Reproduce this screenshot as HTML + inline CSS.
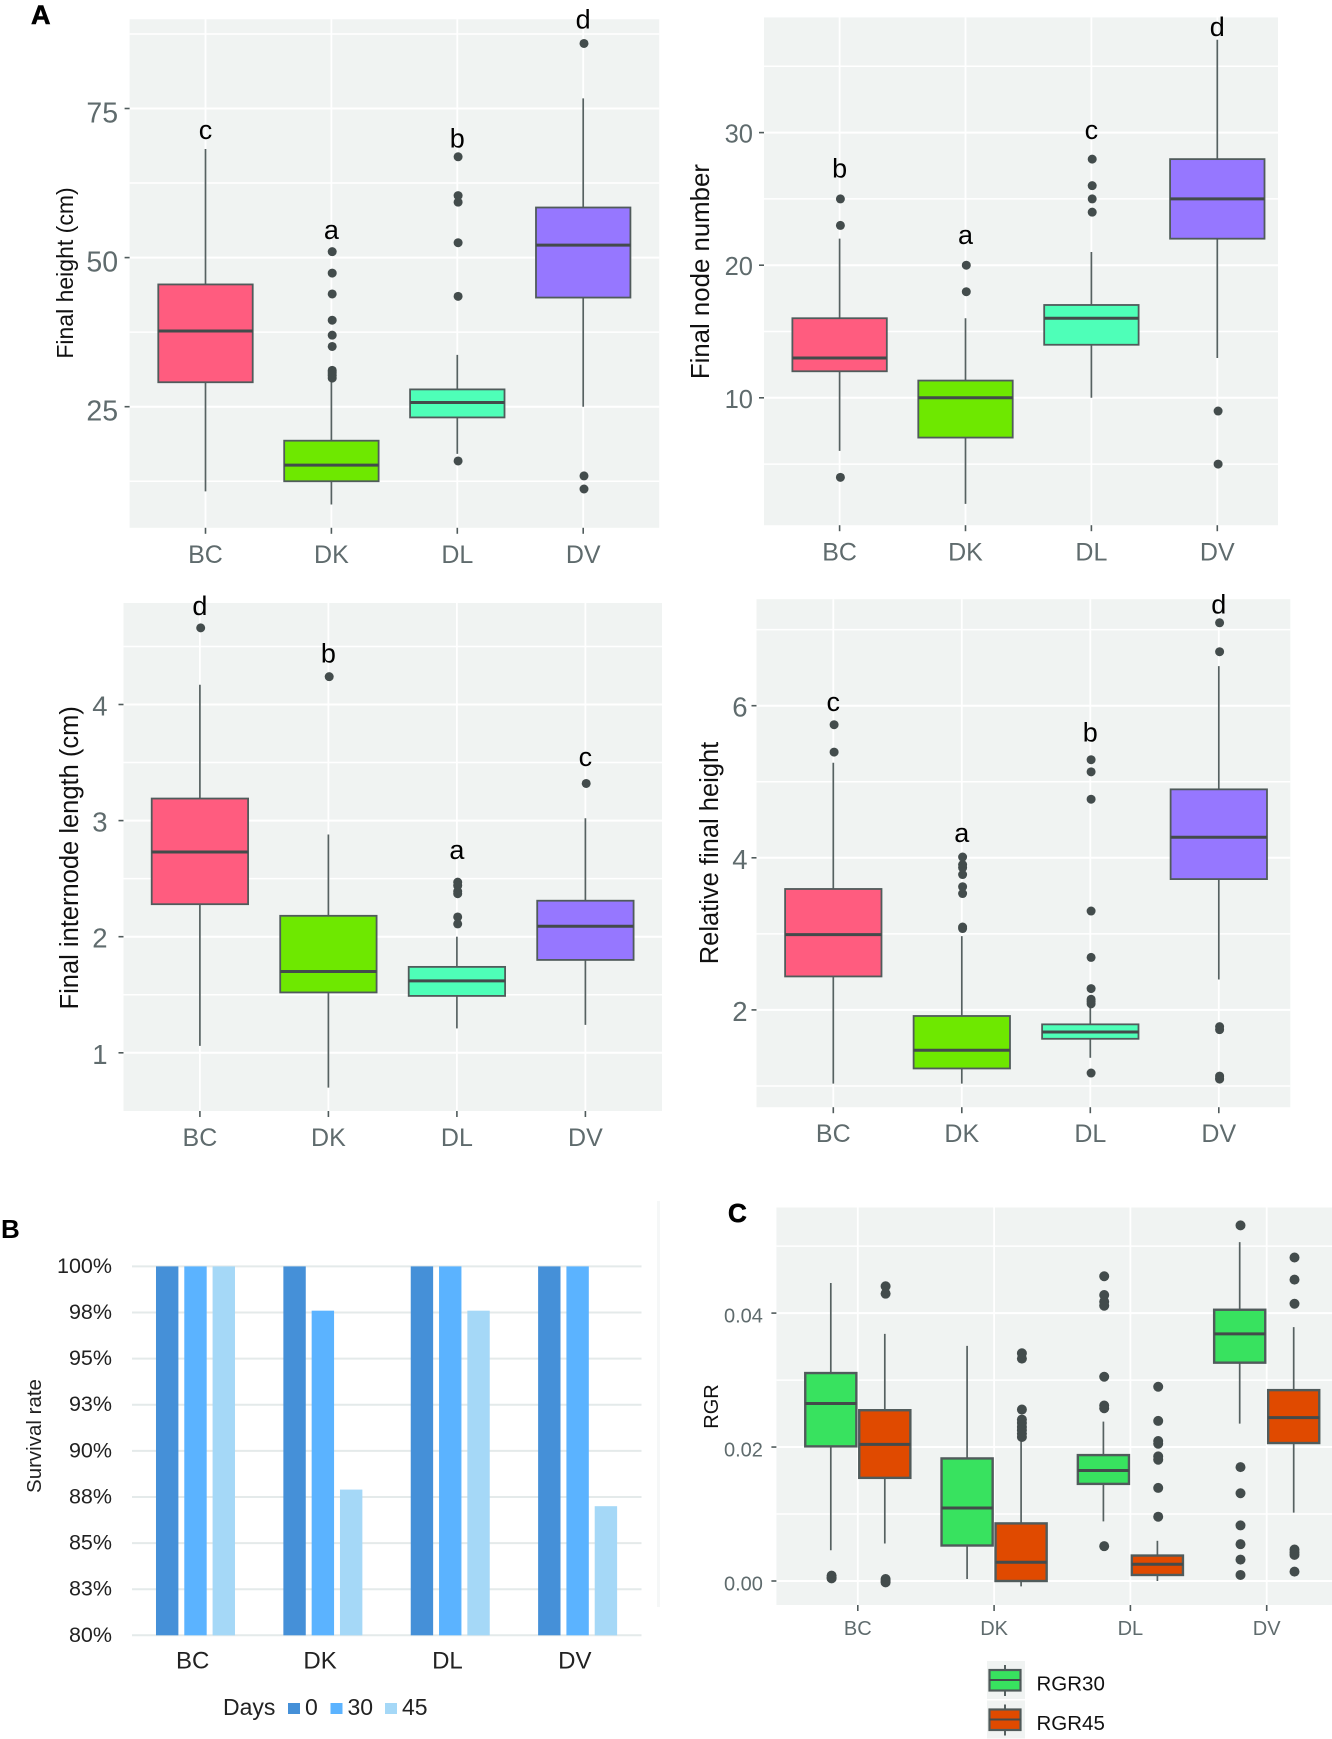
<!DOCTYPE html>
<html lang="en">
<head>
<meta charset="utf-8">
<title>Growth, survival and RGR by group</title>
<style>
html,body{margin:0;padding:0;background:#fff}
body{width:1332px;height:1739px;overflow:hidden}
svg{display:block;font-family:"Liberation Sans",sans-serif}
</style>
</head>
<body>
<svg id="figure" xmlns="http://www.w3.org/2000/svg" width="1332" height="1739" viewBox="0 0 1332 1739">
  <text x="31" y="24" font-size="27" font-weight="bold" stroke="#000" stroke-width="0.6">A</text>
  <text x="1" y="1238" font-size="26" font-weight="bold">B</text>
  <text x="728" y="1222" font-size="26" font-weight="bold" stroke="#000" stroke-width="0.6">C</text>
  <rect x="657" y="1201" width="3" height="406" fill="#f5f7f7"/>
</svg>
<script>
const categories = ['BC', 'DK', 'DL', 'DV'];

const heightTicks = [25, 50, 75];
const heightMinor = [12.5, 37.5, 62.5, 87.5];
const heightWhiskerLow = [10.8, 8.6, 17.1, 25.0];
const heightQ1 = [29.1, 12.5, 23.2, 43.3];
const heightMedian = [37.7, 15.2, 25.7, 52.1];
const heightQ3 = [45.5, 19.3, 27.9, 58.4];
const heightWhiskerHigh = [68.2, 29.2, 33.7, 76.7];
const heightOutliers = [[], [51.0, 47.4, 43.9, 39.5, 37.0, 35.1, 31.1, 30.8, 30.5, 30.2, 29.8], [66.9, 60.4, 59.3, 52.5, 43.5, 15.9], [85.9, 13.4, 11.2]];
const heightLetters = ['c', 'a', 'b', 'd'];
const heightLetterLevels = [69.9, 53.1, 68.5, 88.4];

const nodeTicks = [10, 20, 30];
const nodeMinor = [5, 15, 25, 35];
const nodeWhiskerLow = [6, 2, 10, 13];
const nodeQ1 = [12, 7, 14, 22];
const nodeMedian = [13, 10, 16, 25];
const nodeQ3 = [16, 11.3, 17, 28];
const nodeWhiskerHigh = [22, 16, 21, 37];
const nodeOutliers = [[25, 23, 4], [20, 18], [28, 26, 25, 24], [9, 5]];
const nodeLetters = ['b', 'a', 'c', 'd'];
const nodeLetterLevels = [26.6, 21.6, 29.5, 37.3];

const internodeTicks = [1, 2, 3, 4];
const internodeMinor = [1.5, 2.5, 3.5, 4.5];
const internodeWhiskerLow = [1.06, 0.70, 1.21, 1.24];
const internodeQ1 = [2.28, 1.52, 1.49, 1.80];
const internodeMedian = [2.73, 1.70, 1.62, 2.09];
const internodeQ3 = [3.19, 2.18, 1.74, 2.31];
const internodeWhiskerHigh = [4.17, 2.88, 2.0, 3.02];
const internodeOutliers = [[4.66], [4.24], [2.47, 2.44, 2.39, 2.37, 2.17, 2.11], [3.32]];
const internodeLetters = ['d', 'b', 'a', 'c'];
const internodeLetterLevels = [4.77, 4.36, 2.67, 3.47];

const relativeTicks = [2, 4, 6];
const relativeMinor = [1, 3, 5, 7];
const relativeWhiskerLow = [1.03, 1.03, 1.37, 2.40];
const relativeQ1 = [2.44, 1.23, 1.62, 3.72];
const relativeMedian = [2.99, 1.47, 1.71, 4.27];
const relativeQ3 = [3.59, 1.92, 1.81, 4.90];
const relativeWhiskerHigh = [5.25, 2.97, 2.04, 6.52];
const relativeOutliers = [[5.75, 5.39], [4.01, 3.91, 3.87, 3.78, 3.62, 3.53, 3.09, 3.07], [5.29, 5.13, 4.77, 3.30, 2.69, 2.28, 2.14, 2.11, 2.08, 1.17], [7.09, 6.71, 1.78, 1.74, 1.13, 1.10, 1.09]];
const relativeLetters = ['c', 'a', 'b', 'd'];
const relativeLetterLevels = [5.93, 4.21, 5.53, 7.21];

const survivalTicks = [80, 82.5, 85, 87.5, 90, 92.5, 95, 97.5, 100];
const survivalTickLabels = ['80%', '83%', '85%', '88%', '90%', '93%', '95%', '98%', '100%'];
const survivalDays = ['0', '30', '45'];
const survivalDay0 = [100, 100, 100, 100];
const survivalDay30 = [100, 97.6, 100, 100];
const survivalDay45 = [100, 87.9, 97.6, 87.0];

const rgrTicks = [0, 0.02, 0.04];
const rgrTickLabels = ['0.00', '0.02', '0.04'];
const rgrMinor = [0.01, 0.03, 0.05];
const rgrSeriesNames = ['RGR30', 'RGR45'];
const rgr30WhiskerLow = [0.0046, 0.0003, 0.0089, 0.0235];
const rgr30Q1 = [0.0201, 0.0053, 0.0145, 0.0326];
const rgr30Median = [0.0265, 0.0109, 0.0165, 0.0369];
const rgr30Q3 = [0.03105, 0.0183, 0.0188, 0.0405];
const rgr30WhiskerHigh = [0.0445, 0.0351, 0.0238, 0.0506];
const rgr30Outliers = [[0.0008, 0.0005, 0.0004], [], [0.0455, 0.0427, 0.0417, 0.0411, 0.0305, 0.0262, 0.0258, 0.0052], [0.0531, 0.0170, 0.0131, 0.0083, 0.0055, 0.0032, 0.0009]];
const rgr45WhiskerLow = [0.0056, -0.0008, 0, 0.0102];
const rgr45Q1 = [0.0154, 0, 0.0009, 0.0206];
const rgr45Median = [0.0204, 0.0028, 0.0025, 0.0244];
const rgr45Q3 = [0.0255, 0.0086, 0.0038, 0.0285];
const rgr45WhiskerHigh = [0.0369, 0.0209, 0.0060, 0.0379];
const rgr45Outliers = [[0.0440, 0.0429, 0.0003, 0, -0.0002], [0.0340, 0.0332, 0.0256, 0.0241, 0.0236, 0.0230, 0.0225, 0.0220, 0.0215], [0.0290, 0.0239, 0.0209, 0.0205, 0.0186, 0.0181, 0.0139, 0.0096], [0.0483, 0.0450, 0.0414, 0.0047, 0.0043, 0.0039, 0.0014]];

const svg = document.getElementById('figure');
const NS = 'http://www.w3.org/2000/svg';
const groupFills = ['#ff5c7f', '#6ee800', '#4effb8', '#9677ff'];
const tickColor = '#5f6b6d';
const boxStroke = '#505b5b';
const medianStroke = '#434b4b';
const whiskerStroke = '#566161';
const dotFill = '#434c4c';

function node(parent, tag, attrs, text) {
  const el = document.createElementNS(NS, tag);
  for (const k in attrs) el.setAttribute(k, attrs[k]);
  if (text !== undefined) el.textContent = text;
  parent.appendChild(el);
  return el;
}

function linearScale(d0, d1, r0, r1) {
  return function (v) { return r0 + (v - d0) * (r1 - r0) / (d1 - d0); };
}

function drawFrame(p) {
  const g = node(svg, 'g', {});
  
  
  const bg = node(g, 'rect', { x: p.left, y: p.top, width: p.right - p.left, height: p.bottom - p.top, fill: '#f0f3f2' });
  
  
  p.minor.forEach(function (v) {
    const line = node(g, 'line', { x1: p.left, x2: p.right, y1: p.y(v), y2: p.y(v), stroke: '#fff', 'stroke-width': 1.5 });
    
    
  });
  p.ticks.forEach(function (v, i) {
    const line = node(g, 'line', { x1: p.left, x2: p.right, y1: p.y(v), y2: p.y(v), stroke: '#fff', 'stroke-width': 2 });
    
    
    const mark = node(g, 'line', { x1: p.left - 5, x2: p.left, y1: p.y(v), y2: p.y(v), stroke: boxStroke, 'stroke-width': 1.6 });
    
    
    const label = node(g, 'text', { x: p.left - p.tickGap, y: p.y(v) + p.tickDy, 'text-anchor': 'end', 'font-size': p.tickFont, fill: tickColor }, p.tickLabels ? p.tickLabels[i] : String(v));
    
    
  });
  categories.forEach(function (c, i) {
    const x = p.x(i);
    const grid = node(g, 'line', { x1: x, x2: x, y1: p.top, y2: p.bottom, stroke: '#fff', 'stroke-width': 1.8 });
    
    
    const mark = node(g, 'line', { x1: x, x2: x, y1: p.bottom, y2: p.bottom + 6, stroke: boxStroke, 'stroke-width': 1.6 });
    
    
    const label = node(g, 'text', { x: x, y: p.xBase, 'text-anchor': 'middle', 'font-size': p.xFont, fill: tickColor }, c);
    
    
  });
  const title = node(g, 'text', { x: p.titleX, y: p.titleY, 'text-anchor': 'middle', 'font-size': p.titleFont, fill: '#111', transform: 'rotate(-90 ' + p.titleX + ' ' + p.titleY + ')' }, p.title);
  
  
  return g;
}

function drawBox(g, p, cx, halfWidth, fill, low, q1, med, q3, high, outliers, strokeWidth) {
  const whisker = node(g, 'line', { x1: cx, x2: cx, y1: p.y(high), y2: p.y(low), stroke: whiskerStroke, 'stroke-width': 1.7 });
  
  
  const box = node(g, 'rect', { x: cx - halfWidth, y: p.y(q3), width: halfWidth * 2, height: p.y(q1) - p.y(q3), fill: fill, stroke: boxStroke, 'stroke-width': strokeWidth });
  
  
  const median = node(g, 'line', { x1: cx - halfWidth, x2: cx + halfWidth, y1: p.y(med), y2: p.y(med), stroke: medianStroke, 'stroke-width': 3 });
  
  
  outliers.forEach(function (v) {
    const dot = node(g, 'circle', { cx: cx + 0.8, cy: p.y(v), r: p.dotR, fill: dotFill });
    
    
  });
}

function drawBoxPanel(p, low, q1, med, q3, high, outliers, letters, levels) {
  const g = drawFrame(p);
  categories.forEach(function (c, i) {
    drawBox(g, p, p.x(i), p.step * 0.375, groupFills[i], low[i], q1[i], med[i], q3[i], high[i], outliers[i], 1.8);
    const letter = node(g, 'text', { x: p.x(i), y: p.y(levels[i]), 'text-anchor': 'middle', 'font-size': 27, fill: '#000' }, letters[i]);
    
    
  });
}

function panelGeometry(o) {
  o.x = function (i) { return o.first + i * o.step; };
  o.y = linearScale(o.refValues[0], o.refValues[1], o.refPixels[0], o.refPixels[1]);
  return o;
}

drawBoxPanel(panelGeometry({
  name: 'final-height-panel', title: 'Final height (cm)', left: 129.6, right: 659.2, top: 19.3, bottom: 527.8,
  first: 205.5, step: 125.9, refValues: [25, 75], refPixels: [406.7, 108.5], dotR: 4.5,
  ticks: heightTicks, minor: heightMinor, tickFont: 28.5, tickGap: 11.5, tickDy: 14, xFont: 25, xBase: 563,
  titleX: 73, titleY: 273, titleFont: 23
}), heightWhiskerLow, heightQ1, heightMedian, heightQ3, heightWhiskerHigh, heightOutliers, heightLetters, heightLetterLevels);

drawBoxPanel(panelGeometry({
  name: 'final-node-number-panel', title: 'Final node number', left: 764, right: 1278, top: 17.4, bottom: 525.2,
  first: 839.6, step: 125.9, refValues: [10, 30], refPixels: [397.8, 132.6], dotR: 4.5,
  ticks: nodeTicks, minor: nodeMinor, tickFont: 25.5, tickGap: 11, tickDy: 10, xFont: 25, xBase: 560.5,
  titleX: 709, titleY: 271.6, titleFont: 25.8
}), nodeWhiskerLow, nodeQ1, nodeMedian, nodeQ3, nodeWhiskerHigh, nodeOutliers, nodeLetters, nodeLetterLevels);

drawBoxPanel(panelGeometry({
  name: 'final-internode-length-panel', title: 'Final internode length (cm)', left: 123.5, right: 662, top: 603, bottom: 1111,
  first: 199.9, step: 128.5, refValues: [1, 4], refPixels: [1052.8, 704.5], dotR: 4.5,
  ticks: internodeTicks, minor: internodeMinor, tickFont: 27.5, tickGap: 16, tickDy: 11, xFont: 25, xBase: 1146,
  titleX: 78, titleY: 857.8, titleFont: 25.5
}), internodeWhiskerLow, internodeQ1, internodeMedian, internodeQ3, internodeWhiskerHigh, internodeOutliers, internodeLetters, internodeLetterLevels);

drawBoxPanel(panelGeometry({
  name: 'relative-final-height-panel', title: 'Relative final height', left: 756.5, right: 1290.3, top: 599.2, bottom: 1107.2,
  first: 833.3, step: 128.5, refValues: [2, 6], refPixels: [1009.9, 705.7], dotR: 4.5,
  ticks: relativeTicks, minor: relativeMinor, tickFont: 27.5, tickGap: 9, tickDy: 11, xFont: 25, xBase: 1142,
  titleX: 718, titleY: 853, titleFont: 25.5
}), relativeWhiskerLow, relativeQ1, relativeMedian, relativeQ3, relativeWhiskerHigh, relativeOutliers, relativeLetters, relativeLetterLevels);

/* Panel C: paired RGR boxplots */
(function () {
  const p = panelGeometry({
    name: 'rgr-panel', title: 'RGR', left: 776.4, right: 1332, top: 1207.5, bottom: 1605,
    first: 857.8, step: 136.3, refValues: [0, 0.04], refPixels: [1581, 1313.1], dotR: 5,
    ticks: rgrTicks, tickLabels: rgrTickLabels, minor: rgrMinor, tickFont: 20, tickGap: 13.5, tickDy: 9.5, xFont: 20, xBase: 1635,
    titleX: 718, titleY: 1406.5, titleFont: 20
  });
  const g = drawFrame(p);
  const rgrFills = ['#38e25f', '#e04a00'];
  const half = p.step * 0.1875;
  categories.forEach(function (c, i) {
    drawBox(g, p, p.x(i) - 27, half, rgrFills[0], rgr30WhiskerLow[i], rgr30Q1[i], rgr30Median[i], rgr30Q3[i], rgr30WhiskerHigh[i], rgr30Outliers[i], 2.4);
    drawBox(g, p, p.x(i) + 27, half, rgrFills[1], rgr45WhiskerLow[i], rgr45Q1[i], rgr45Median[i], rgr45Q3[i], rgr45WhiskerHigh[i], rgr45Outliers[i], 2.4);
  });
  rgrSeriesNames.forEach(function (name, i) {
    const top = 1661 + i * 39.5;
    const entry = node(svg, 'g', {});
    
    
    const keyBg = node(entry, 'rect', { x: 987, y: top, width: 38, height: 38, fill: '#f0f3f2' });
    
    
    const keyWhisker = node(entry, 'line', { x1: 1005, x2: 1005, y1: top + 4, y2: top + 35, stroke: whiskerStroke, 'stroke-width': 2 });
    
    
    const keyBox = node(entry, 'rect', { x: 989.5, y: top + 9, width: 31, height: 20.5, fill: rgrFills[i], stroke: boxStroke, 'stroke-width': 2.2 });
    
    
    const keyMedian = node(entry, 'line', { x1: 989.5, x2: 1020.5, y1: top + 19, y2: top + 19, stroke: medianStroke, 'stroke-width': 2 });
    
    
    const label = node(entry, 'text', { x: 1036.5, y: top + 29.5, 'font-size': 20.5, fill: '#111' }, name);
    
    
  });
})();

/* Panel B: survival bars */
(function () {
  const left = 132, right = 641.5, step = (right - left) / 4;
  const y = linearScale(80, 100, 1635.3, 1266.4);
  const series = [survivalDay0, survivalDay30, survivalDay45];
  const fills = ['#4590d8', '#5bb3ff', '#a5d8f7'];
  const g = node(svg, 'g', {});
  
  
  survivalTicks.forEach(function (v, i) {
    const line = node(g, 'line', { x1: left, x2: right, y1: y(v), y2: y(v), stroke: '#e4eaea', 'stroke-width': 2 });
    
    
    const label = node(g, 'text', { x: 112, y: y(v) + 6.5, 'text-anchor': 'end', 'font-size': 21.5, fill: '#222' }, survivalTickLabels[i]);
    
    
  });
  categories.forEach(function (c, i) {
    const center = left + step * (i + 0.5);
    series.forEach(function (values, s) {
      const bar = node(g, 'rect', { x: center - 11.4 + (s - 1) * 28.3, y: y(values[i]), width: 22.4, height: y(80) - y(values[i]), fill: fills[s] });
      
      
    });
    const label = node(g, 'text', { x: center - 3, y: 1668.5, 'text-anchor': 'middle', 'font-size': 24, fill: '#222' }, c);
    
    
  });
  const title = node(g, 'text', { x: 41, y: 1436, 'text-anchor': 'middle', 'font-size': 20.5, fill: '#222', transform: 'rotate(-90 41 1436)' }, 'Survival rate');
  
  
  const legendTitle = node(g, 'text', { x: 223, y: 1715, 'font-size': 23, fill: '#222' }, 'Days');
  
  
  const swatchSpots = [288, 330.5, 385];
  survivalDays.forEach(function (day, i) {
    const swatch = node(g, 'rect', { x: swatchSpots[i], y: 1703, width: 12, height: 11, fill: fills[i] });
    
    
    const label = node(g, 'text', { x: swatchSpots[i] + 17, y: 1715, 'font-size': 23, fill: '#222' }, day);
    
    
  });
})();
</script>
</body>
</html>
